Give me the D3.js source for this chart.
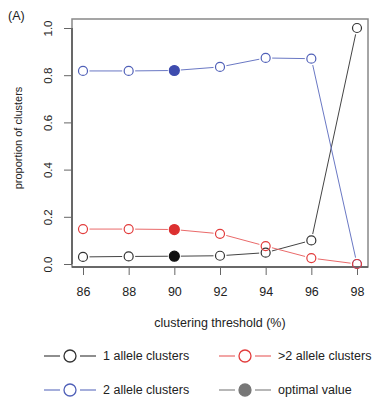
<!DOCTYPE html>
<html>
<head>
<meta charset="utf-8">
<script src="https://cdn.jsdelivr.net/npm/d3@7"></script>
<style>
body { margin: 0; background: #fff; }
text { font-family: "Liberation Sans", Arial, sans-serif; fill: #222; }
</style>
</head>
<body>
<div id="chart"></div>
<script>
var thresholds = [86, 88, 90, 92, 94, 96, 98];
var oneAllele = [0.03, 0.032, 0.033, 0.035, 0.048, 0.10, 1.0];
var twoAllele = [0.818, 0.818, 0.82, 0.835, 0.873, 0.87, 0.0];
var moreAllele = [0.148, 0.148, 0.146, 0.128, 0.076, 0.025, 0.0];
var optimalThreshold = 90;
var yTicks = [0, 0.2, 0.4, 0.6, 0.8, 1.0];

var width = 377, height = 400;

var svg = d3.select("#chart").append("svg")
    .attr("width", width)
    .attr("height", height);

var x = d3.scaleLinear().domain([86, 98]).range([83, 357]);
var y = d3.scaleLinear().domain([0, 1]).range([264, 28]);

// box
svg.append("rect")
    .attr("x", 72).attr("y", 19)
    .attr("width", 296).attr("height", 248)
    .attr("fill", "none")
    .attr("stroke", "#888")
    .attr("stroke-width", 1.5);

// left axis, labels rotated like R's default
var yAxis = svg.append("g")
    .attr("transform", "translate(72,0)")
    .call(d3.axisLeft(y).tickValues(yTicks).tickSize(8).tickFormat(d3.format(".1f")));
yAxis.select(".domain").attr("stroke", "#555").attr("stroke-width", 1.5)
    .attr("d", "M0," + y(0) + "V" + y(1));
yAxis.selectAll(".tick line").attr("stroke", "#666");
yAxis.selectAll(".tick text")
    .attr("transform", "translate(-24,0) rotate(-90)")
    .attr("x", 0).attr("y", 0).attr("dy", "0.35em")
    .attr("text-anchor", "middle")
    .style("font-size", "11.5px");

// bottom axis
var xAxis = svg.append("g")
    .attr("transform", "translate(0,267)")
    .call(d3.axisBottom(x).tickValues(thresholds).tickSize(8).tickFormat(d3.format("d")));
xAxis.select(".domain").attr("stroke", "#555").attr("stroke-width", 1.5)
    .attr("d", "M72,0H368");
xAxis.selectAll(".tick line").attr("stroke", "#666");
xAxis.selectAll(".tick text").attr("y", 20).style("font-size", "12.5px");

svg.append("text")
    .attr("x", 220).attr("y", 326.5)
    .attr("text-anchor", "middle")
    .style("font-size", "12.5px")
    .text("clustering threshold (%)");

svg.append("text")
    .attr("transform", "translate(22,138) rotate(-90)")
    .attr("text-anchor", "middle")
    .style("font-size", "11px")
    .text("proportion of clusters");

svg.append("text")
    .attr("x", 8).attr("y", 19.5)
    .style("font-size", "12.5px")
    .text("(A)");

var series = [
    {name: "1 allele clusters", values: oneAllele, line: "#444", stroke: "#333", fill: "#111"},
    {name: "2 allele clusters", values: twoAllele, line: "#6a78c4", stroke: "#5060b8", fill: "#3e4cae"},
    {name: ">2 allele clusters", values: moreAllele, line: "#ea6a6a", stroke: "#e23c3c", fill: "#dc3030"}
];

series.forEach(function(s) {
    var g = svg.append("g");
    // segments stop short of the circles, as R's type="b" does
    for (var i = 0; i < thresholds.length - 1; i++) {
        var x1 = x(thresholds[i]), y1 = y(s.values[i]);
        var x2 = x(thresholds[i + 1]), y2 = y(s.values[i + 1]);
        var len = Math.sqrt((x2 - x1) * (x2 - x1) + (y2 - y1) * (y2 - y1));
        var ux = (x2 - x1) / len, uy = (y2 - y1) / len;
        var gap = 6.5;
        g.append("line")
            .attr("x1", x1 + ux * gap).attr("y1", y1 + uy * gap)
            .attr("x2", x2 - ux * gap).attr("y2", y2 - uy * gap)
            .attr("stroke", s.line)
            .attr("stroke-width", 1);
    }
    g.selectAll("circle")
        .data(s.values)
        .enter()
        .append("circle")
        .attr("cx", function(d, i) { return x(thresholds[i]); })
        .attr("cy", function(d) { return y(d); })
        .attr("r", function(d, i) { return thresholds[i] == optimalThreshold ? 5 : 4.5; })
        .attr("fill", function(d, i) { return thresholds[i] == optimalThreshold ? s.fill : "none"; })
        .attr("stroke", function(d, i) { return thresholds[i] == optimalThreshold ? s.fill : s.stroke; })
        .attr("stroke-width", 1.2);
});

// legend
var legendItems = [
    {name: "1 allele clusters", line: "#444", stroke: "#333", fill: "none", col: 0, row: 0},
    {name: ">2 allele clusters", line: "#ea6a6a", stroke: "#e23c3c", fill: "none", col: 1, row: 0},
    {name: "2 allele clusters", line: "#6a78c4", stroke: "#5060b8", fill: "none", col: 0, row: 1},
    {name: "optimal value", line: "#888", stroke: "#777", fill: "#777", col: 1, row: 1}
];
var colX = [70, 245], rowY = [356, 390];

var legend = svg.append("g");
legendItems.forEach(function(d) {
    var cx = colX[d.col], cy = rowY[d.row];
    var lg = legend.append("g");
    lg.append("line")
        .attr("x1", cx - 26).attr("x2", cx - 10)
        .attr("y1", cy).attr("y2", cy)
        .attr("stroke", d.line).attr("stroke-width", 1.2);
    lg.append("line")
        .attr("x1", cx + 10).attr("x2", cx + 26)
        .attr("y1", cy).attr("y2", cy)
        .attr("stroke", d.line).attr("stroke-width", 1.2);
    lg.append("circle")
        .attr("cx", cx).attr("cy", cy).attr("r", 6)
        .attr("fill", d.fill)
        .attr("stroke", d.stroke).attr("stroke-width", 1.3);
    lg.append("text")
        .attr("x", cx + 33).attr("y", cy)
        .attr("dy", "0.35em")
        .style("font-size", "12.5px")
        .text(d.name);
});
</script>
</body>
</html>
